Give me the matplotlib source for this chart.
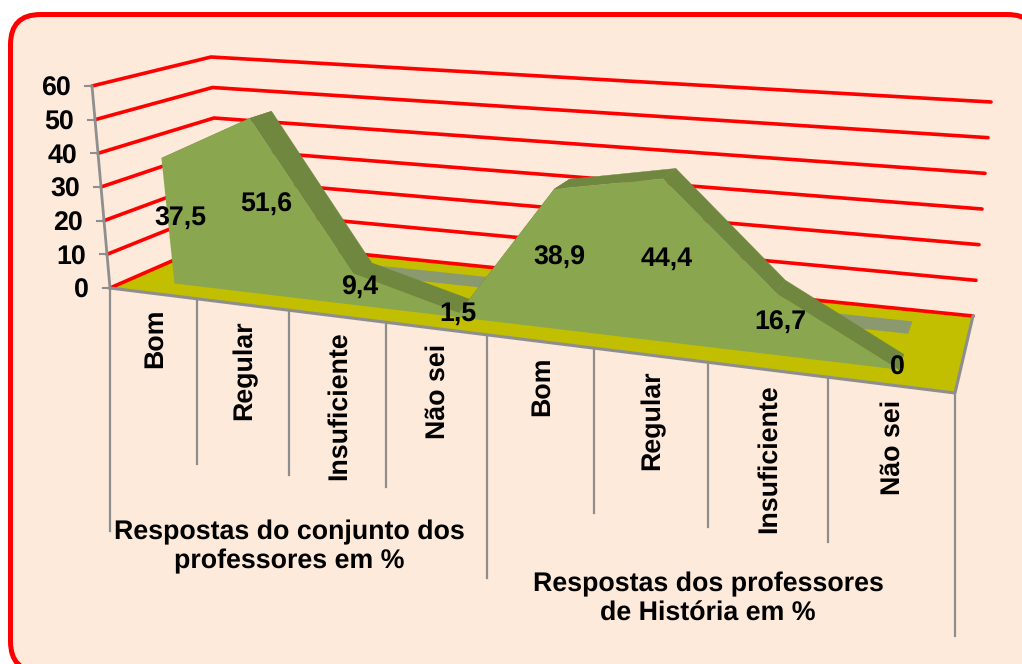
import numpy as np
import matplotlib
matplotlib.use("Agg")
import matplotlib.pyplot as plt
from matplotlib.patches import FancyBboxPatch, Polygon

# chart data
categories = ["Bom", "Regular", "Insuficiente", "Não sei",
              "Bom", "Regular", "Insuficiente", "Não sei"]
values = [37.5, 51.6, 9.4, 1.5, 38.9, 44.4, 16.7, 0]
value_labels = ["37,5", "51,6", "9,4", "1,5", "38,9", "44,4", "16,7", "0"]
y_ticks = [0, 10, 20, 30, 40, 50, 60]
groups = ["Respostas do conjunto dos\nprofessores em %",
          "Respostas dos professores\nde História em %"]

BG = "#FDEADA"
RED = "#FF0000"
GREY = "#8E8E8E"
FLOOR = "#C2BE00"
FRONT = "#8AA64F"
TOP = "#6F873F"
BAND = "#8A9A6E"

plt.rcParams["font.family"] = ["Liberation Sans", "DejaVu Sans"]
plt.rcParams["font.weight"] = "bold"
plt.rcParams["font.size"] = 19.3
plt.rcParams["text.hinting"] = "none"

# the 3D box as seen on the page: front-left, front-right, back-right, back-left
floor_px = [(110, 288), (955, 393), (973, 316), (220, 240)]
roof_px = [(92, 86), (977, 158), (991, 102), (211, 57)]


def homography(corners):
    src = [(0, 0), (1, 0), (1, 1), (0, 1)]
    a, b = [], []
    for (s, t), (x, y) in zip(src, corners):
        a.append([s, t, 1, 0, 0, 0, -s * x, -t * x])
        a.append([0, 0, 0, s, t, 1, -s * y, -t * y])
        b += [x, y]
    return np.append(np.linalg.solve(np.array(a, float), np.array(b, float)), 1).reshape(3, 3)


H_floor = homography(floor_px)
H_roof = homography(roof_px)


def project(slot, depth, height, k=0.93):
    """slot 0-8 along the categories, depth 0-1 front to back, height 0-60"""
    u = slot / len(categories)
    u = u / (u + k * (1 - u))  # ease the perspective along the category axis
    p = np.array([u, depth, 1.0])
    a = H_floor @ p
    b = H_roof @ p
    t = height / 60.0
    return (1 - t) * a[:2] / a[2] + t * b[:2] / b[2]


# the area series does not sit quite on the slot centres
point_nudge = [-5, 0, -13, -12, 0, 0, -10, -3]
label_nudge = [12, 4, 4, -2, -5, -5, 2, -1]


def area_pt(i, depth, height):
    return project(i + 0.5, depth, height, k=0.845) + np.array([point_nudge[i], 0])


fig = plt.figure(figsize=(10.22, 6.64), dpi=100, facecolor="white")
ax = fig.add_axes([0, 0, 1, 1])
ax.set_xlim(0, 1022)
ax.set_ylim(664, 0)
ax.axis("off")

ax.add_patch(FancyBboxPatch((10.5 + 30, 14.5 + 30), 1027 - 60, 657 - 60,
                            boxstyle="round,pad=30,rounding_size=30",
                            fc=BG, ec=RED, lw=3.6, zorder=0))

# floor
ax.add_patch(Polygon([project(0, 0, 0), project(8, 0, 0), project(8, 1, 0), project(0, 1, 0)],
                     fc=FLOOR, ec="none", zorder=1))

# gridlines along the left and back walls
for h in y_ticks:
    pts = np.array([project(0, 0, h), project(0, 1, h), project(8, 1, h)])
    ax.plot(pts[:, 0], pts[:, 1], color=RED, lw=2.6, solid_capstyle="round", zorder=2)

# value axis
a0 = project(0, 0, 0)
a1 = project(0, 0, 60)
ax.plot([a0[0], a1[0]], [a0[1], a1[1]], color=GREY, lw=2, zorder=3)
for h in y_ticks:
    x, y = project(0, 0, h)
    ax.plot([x - 7, x], [y, y], color=GREY, lw=1.5, zorder=3)
    ax.text(x - 21, y + 3, str(h), ha="right", va="center", zorder=6)

# floor edges
pts = np.array([project(0, 0, 0), project(8, 0, 0), project(8, 1, 0)])
ax.plot(pts[:, 0], pts[:, 1], color=GREY, lw=2.2, zorder=3)

# category separators, longer at the group boundaries
for i in range(len(categories) + 1):
    x, y = project(i, 0, 0)
    length = 243 if i % 4 == 0 else 165
    ax.plot([x, x], [y, y + length], color=GREY, lw=1.6, zorder=3)

idx = list(range(len(values)))
d_front, d_back = 0.19, 0.38
d_band0, d_band1 = 0.66, 0.84

# flat grey series lying on the floor further back
band_end = np.array([-3, 0])
band = [area_pt(idx[0], d_band0, 0), area_pt(idx[-1], d_band0, 0) + band_end,
        area_pt(idx[-1], d_band1, 0) + band_end, area_pt(idx[0], d_band1, 0)]
ax.add_patch(Polygon(band, fc=BAND, ec="none", zorder=4))

# top faces of the area
for i in idx[:-1]:
    quad = [area_pt(i, d_front, values[i]), area_pt(i + 1, d_front, values[i + 1]),
            area_pt(i + 1, d_back, values[i + 1]), area_pt(i, d_back, values[i])]
    ax.add_patch(Polygon(quad, fc=TOP, ec=TOP, lw=0.3, zorder=4.5))

# front face
outline = [area_pt(i, d_front, values[i]) for i in idx]
outline += [area_pt(idx[-1], d_front, 0), area_pt(idx[0], d_front, 0)]
ax.add_patch(Polygon(outline, fc=FRONT, ec="none", zorder=5))

# value labels
for i, s in zip(idx, value_labels):
    x, y = area_pt(i, d_front, values[i] / 2)
    ax.text(x + label_nudge[i], y - 2, s, ha="center", va="center", zorder=7)

# category labels
label_cy = [338, 370, 406, 391, 386, 420, 459, 447]
for i, (s, cy) in enumerate(zip(categories, label_cy)):
    x, _ = project(i + 0.5, 0, 0)
    ax.text(x + 2, cy, s, rotation=90, ha="center", va="center", zorder=6)

# group labels
ax.text(289, 547, groups[0], ha="center", va="center", linespacing=1.2, zorder=6)
ax.text(708, 599, groups[1], ha="center", va="center", linespacing=1.2, zorder=6)

fig.savefig("out.png", dpi=100, facecolor="white")
